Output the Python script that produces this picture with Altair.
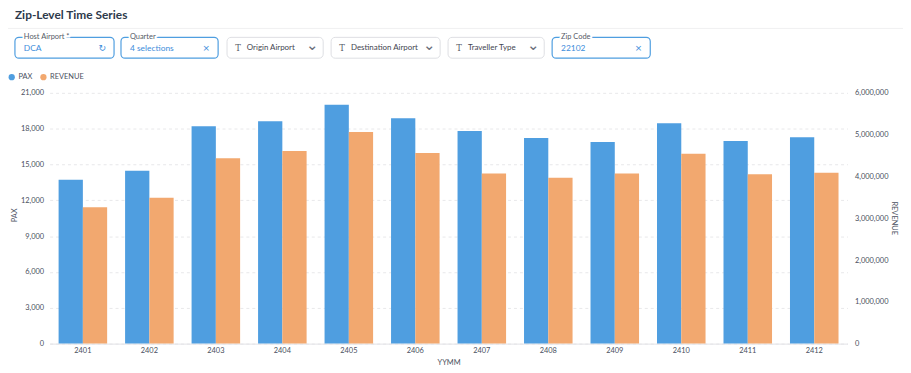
import altair as alt
import pandas as pd

# ---------------- data ----------------
months = ["2401", "2402", "2403", "2404", "2405", "2406",
          "2407", "2408", "2409", "2410", "2411", "2412"]
pax = [13720, 14470, 18200, 18620, 20000, 18870,
       17810, 17230, 16880, 18450, 16960, 17290]
revenue = [3263000, 3493000, 4435000, 4608000, 5066000, 4560000,
           4070000, 3968000, 4070000, 4544000, 4055000, 4086000]
measures = ["PAX", "REVENUE"]
pax_ticks = [0, 3000, 6000, 9000, 12000, 15000, 18000, 21000]
rev_ticks = [0, 1000000, 2000000, 3000000, 4000000, 5000000, 6000000]

chart_title = "Zip-Level Time Series"
filter_labels = ["Host Airport *", "Quarter", "Origin Airport",
                 "Destination Airport", "Traveller Type", "Zip Code"]
filter_values = ["DCA", "4 selections", "", "", "", "22102"]
filter_icons = ["↻", "×", "⌄", "⌄", "⌄", "×"]

rows = []
for m, p, r in zip(months, pax, revenue):
    rows.append({"YYMM": m, "measure": "PAX", "value": p})
    rows.append({"YYMM": m, "measure": "REVENUE", "value": r})
df = pd.DataFrame(rows)

# ---------------- styles / layout ----------------
FONT = "Lato"
BLUE = "#4f9ee0"
ORANGE = "#f2a86f"
TXT = "#4a5060"
W, H = 805, 253
box_edges = [(-35, 65), (72, 170), (179, 276), (284, 394), (402, 499), (507, 606)]
BOX_TOP, BOX_BOTTOM = -56, -35
BOX_MID = -45.5

x_enc = alt.X(
    "YYMM:N", title="YYMM", sort=months,
    scale=alt.Scale(paddingInner=0.27, paddingOuter=0.135),
    axis=alt.Axis(labelAngle=0, ticks=False, tickSize=0, labelPadding=3,
                  domainColor="#e2e2e6", titleY=19, titleBaseline="middle"),
)
xoff = alt.XOffset("measure:N", scale=alt.Scale(domain=measures))
color = alt.Color(
    "measure:N",
    scale=alt.Scale(domain=measures, range=[BLUE, ORANGE]),
    legend=alt.Legend(orient="none", legendX=-42, legendY=-20, direction="horizontal",
                      title=None, symbolType="circle", symbolSize=40,
                      labelFontSize=7.5, labelColor=TXT, labelFont=FONT,
                      labelOffset=3, columnPadding=7, symbolStrokeWidth=0),
)

pax_bars = alt.Chart(df).transform_filter(alt.datum.measure == "PAX").mark_bar().encode(
    x=x_enc, xOffset=xoff, color=color,
    y=alt.Y("value:Q", title="PAX",
            scale=alt.Scale(domain=[0, 21000], nice=False),
            axis=alt.Axis(orient="left", values=pax_ticks, format=",d", grid=True,
                          gridDash=[3, 3], gridColor="#e8e8ea", domain=False,
                          ticks=False, tickSize=0, labelPadding=6,
                          titleX=-35, titleY=123, titleBaseline="middle")),
)
rev_bars = alt.Chart(df).transform_filter(alt.datum.measure == "REVENUE").mark_bar().encode(
    x=x_enc, xOffset=xoff, color=color,
    y=alt.Y("value:Q", title="REVENUE",
            scale=alt.Scale(domain=[0, 6000000], nice=False),
            axis=alt.Axis(orient="right", values=rev_ticks, format=",d", grid=False,
                          domain=False, ticks=False, tickSize=0, labelPadding=7,
                          titleX=46, titleY=126, titleAngle=90, titleBaseline="middle")),
)

one = alt.Data(values=[{"a": 1}])
deco = []
deco.append(alt.Chart(one).mark_text(text=chart_title, font=FONT, fontSize=12,
                                     fontWeight="bold", color="#2e3a4b", align="left",
                                     baseline="middle")
            .encode(x=alt.value(-35), y=alt.value(-79)))
deco.append(alt.Chart(one).mark_rule(color="#f0f0f2", strokeWidth=1)
            .encode(x=alt.value(-50), x2=alt.value(861), y=alt.value(-65)))

for (x0, x1), lab, val, icon in zip(box_edges, filter_labels, filter_values, filter_icons):
    active = val != ""
    deco.append(alt.Chart(one).mark_rect(fill="white", stroke=BLUE if active else "#dedfe3",
                                         strokeWidth=1.2 if active else 1, cornerRadius=4)
                .encode(x=alt.value(x0), x2=alt.value(x1),
                        y=alt.value(BOX_TOP), y2=alt.value(BOX_BOTTOM)))
    if active:
        for stroke_w, col in ((4, "white"), (0, "#555a66")):
            deco.append(alt.Chart(one).mark_text(text=lab, font=FONT, fontSize=7.5,
                                                 color=col, stroke="white" if stroke_w else None,
                                                 strokeWidth=stroke_w, align="left",
                                                 baseline="middle")
                        .encode(x=alt.value(x0 + 9), y=alt.value(BOX_TOP)))
        deco.append(alt.Chart(one).mark_text(text=val, font=FONT, fontSize=8.5,
                                             color="#3d8ddb", align="left", baseline="middle")
                    .encode(x=alt.value(x0 + 9), y=alt.value(BOX_MID)))
        deco.append(alt.Chart(one).mark_text(text=icon, font="DejaVu Sans", fontSize=9,
                                             color="#3d8ddb", align="center", baseline="middle")
                    .encode(x=alt.value(x1 - 12), y=alt.value(BOX_MID)))
    else:
        deco.append(alt.Chart(one).mark_text(text="T", font="DejaVu Serif", fontSize=8.5,
                                             color="#555a66", align="center", baseline="middle")
                    .encode(x=alt.value(x0 + 11), y=alt.value(BOX_MID)))
        deco.append(alt.Chart(one).mark_text(text=lab, font=FONT, fontSize=8,
                                             color="#3f4450", align="left", baseline="middle")
                    .encode(x=alt.value(x0 + 20), y=alt.value(BOX_MID)))
        deco.append(alt.Chart(one).mark_text(text=icon, font="DejaVu Sans", fontSize=15,
                                             color="#6a6f7a", align="center", baseline="middle")
                    .encode(x=alt.value(x1 - 11), y=alt.value(BOX_MID - 3)))

chart = alt.layer(pax_bars, rev_bars, *deco).resolve_scale(y="independent").properties(
    width=W, height=H,
    autosize=alt.AutoSizeParams(type="none"),
    padding={"left": 42, "top": 84, "right": 56, "bottom": 26},
).configure_view(stroke=None).configure_axis(
    labelFont=FONT, titleFont=FONT, labelFontSize=7.5, titleFontSize=7.5,
    labelColor=TXT, titleColor=TXT, titleFontWeight="normal",
)

chart.save("out.html", embed_options={"renderer": "svg", "actions": False})
